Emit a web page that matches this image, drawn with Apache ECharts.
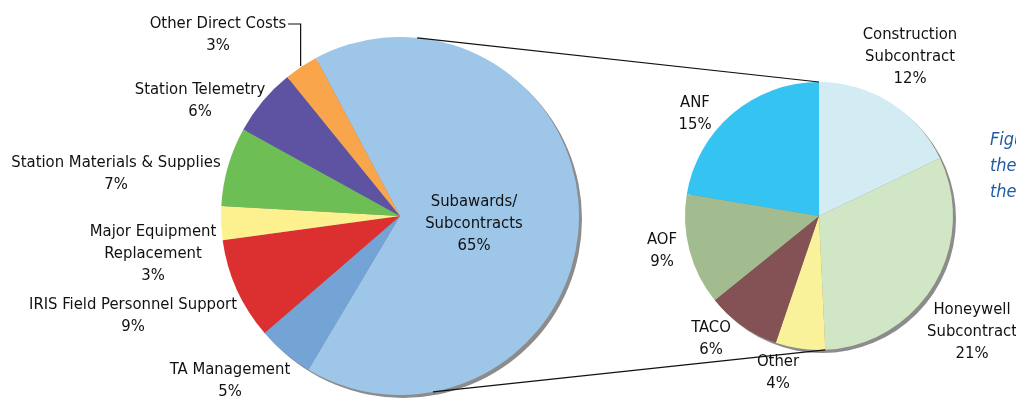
<!DOCTYPE html>
<html>
<head>
<meta charset="utf-8">
<script src="https://cdn.jsdelivr.net/npm/echarts@6/dist/echarts.min.js"></script>
<style>
  html, body { margin: 0; padding: 0; background: #ffffff; }
  #chart { width: 1016px; height: 399px; }
</style>
</head>
<body>
<div id="chart"></div>
<script>
// Budget breakdown (percent of total)
const mainNames = ['Subawards/\nSubcontracts', 'TA Management', 'IRIS Field Personnel Support',
  'Major Equipment\nReplacement', 'Station Materials & Supplies', 'Station Telemetry', 'Other Direct Costs'];
const mainValues = [65, 5, 9, 3, 7, 6, 3];
const mainColors = ['#9dc6e8', '#74a3d6', '#db2f30', '#fdf08f', '#6ebe56', '#5e53a2', '#f9a54b'];

// Breakdown of subawards/subcontracts (percent of total)
const subNames = ['Construction\nSubcontract', 'Honeywell\nSubcontract', 'Other', 'TACO', 'AOF', 'ANF'];
const subValues = [12, 21, 4, 6, 9, 15];
const subColors = ['#d3ecf4', '#d0e6c4', '#faf29a', '#845255', '#a2bb8f', '#35c4f1'];

const captionLines = ['Figure', 'the', 'the'];

// geometry
const mainPie = { cx: 400, cy: 216, r: 179 };
const subPie = { cx: 819, cy: 216, r: 134 };
const mainStartCompass = -28; // degrees clockwise from 12 o'clock

// label anchors: [center x, top y]
const mainLabelPos = [[474, 191], [230, 359], [133, 294], [153, 221], [116, 152], [200, 79], [218, 13]];
const subLabelPos = [[910, 24], [972, 299], [778, 351], [711, 317], [662, 229], [695, 92]];

const FONT = '"DejaVu Sans Condensed", "Liberation Sans Narrow", sans-serif';
const TEXT = '#111111';

function pt(p, compassDeg, r) {
  const a = compassDeg * Math.PI / 180;
  const rr = r === undefined ? p.r : r;
  return [p.cx + rr * Math.sin(a), p.cy - rr * Math.cos(a)];
}
function sum(a) { return a.reduce((s, v) => s + v, 0); }

const mainTotal = sum(mainValues);
const subTotal = sum(subValues);

// mid angle of every slice of the main pie
let acc = mainStartCompass;
const mainMid = mainValues.map(v => { const s = acc; acc += v / mainTotal * 360; return (s + acc) / 2; });
// end of Honeywell slice in the sub pie
const honeyEnd = (subValues[0] + subValues[1]) / subTotal * 360;

const labelStyle = {
  show: true,
  formatter: '{b}\n{c}%',
  fontFamily: FONT,
  fontSize: 16.5,
  lineHeight: 22,
  color: TEXT,
  align: 'center'
};

function makeLayout(pos) {
  return function (params) {
    const p = pos[params.dataIndex];
    return { x: p[0], y: p[1], align: 'center', verticalAlign: 'top' };
  };
}

const chart = echarts.init(document.getElementById('chart'), null, { renderer: 'canvas' });

const odcIdx = mainNames.length - 1;
const odcEdge = pt(mainPie, mainMid[odcIdx], mainPie.r + 1);
const odcLabelY = mainLabelPos[odcIdx][1] + 11;

const connTop = [pt(mainPie, 5.5), pt(subPie, 0)];
const connBot = [pt(mainPie, 169.4), pt(subPie, honeyEnd)];

const lineStyle = { stroke: '#111111', lineWidth: 1.2 };

chart.setOption({
  animation: false,
  backgroundColor: '#ffffff',
  series: [
    { // drop shadow disc, main pie
      type: 'pie', silent: true, center: [mainPie.cx + 3, mainPie.cy + 3], radius: mainPie.r,
      label: { show: false }, labelLine: { show: false },
      itemStyle: { color: '#8c8c8c' }, data: [{ value: 1, name: '' }]
    },
    {
      type: 'pie', silent: true, center: [mainPie.cx, mainPie.cy], radius: mainPie.r,
      startAngle: 90 - mainStartCompass, clockwise: true,
      avoidLabelOverlap: false,
      label: labelStyle, labelLine: { show: false },
      labelLayout: makeLayout(mainLabelPos),
      itemStyle: { borderWidth: 0 },
      data: mainNames.map((n, i) => ({ name: n, value: mainValues[i], itemStyle: { color: mainColors[i] } }))
    },
    { // drop shadow disc, sub pie
      type: 'pie', silent: true, center: [subPie.cx + 3, subPie.cy + 3], radius: subPie.r,
      label: { show: false }, labelLine: { show: false },
      itemStyle: { color: '#8c8c8c' }, data: [{ value: 1, name: '' }]
    },
    {
      type: 'pie', silent: true, center: [subPie.cx, subPie.cy], radius: subPie.r,
      startAngle: 90, clockwise: true,
      avoidLabelOverlap: false,
      label: labelStyle, labelLine: { show: false },
      labelLayout: makeLayout(subLabelPos),
      itemStyle: { borderWidth: 0 },
      data: subNames.map((n, i) => ({ name: n, value: subValues[i], itemStyle: { color: subColors[i] } }))
    }
  ],
  graphic: [
    { type: 'line', z: 100, shape: { x1: connTop[0][0], y1: connTop[0][1], x2: connTop[1][0], y2: connTop[1][1] },
      style: lineStyle },
    { type: 'line', z: 100, shape: { x1: connBot[0][0], y1: connBot[0][1], x2: connBot[1][0], y2: connBot[1][1] },
      style: lineStyle },
    { type: 'polyline', z: 100,
      shape: { points: [[288, odcLabelY], [odcEdge[0], odcLabelY], [odcEdge[0], odcEdge[1]]] },
      style: Object.assign({ fill: null }, lineStyle) }
  ].concat(captionLines.map((t, i) => ({
    type: 'text', x: 990, y: 140 + i * 26,
    style: { text: t, fontFamily: FONT, fontStyle: 'italic', fontSize: 18, fill: '#1f5c9e', verticalAlign: 'middle' }
  })))
});
</script>
</body>
</html>
